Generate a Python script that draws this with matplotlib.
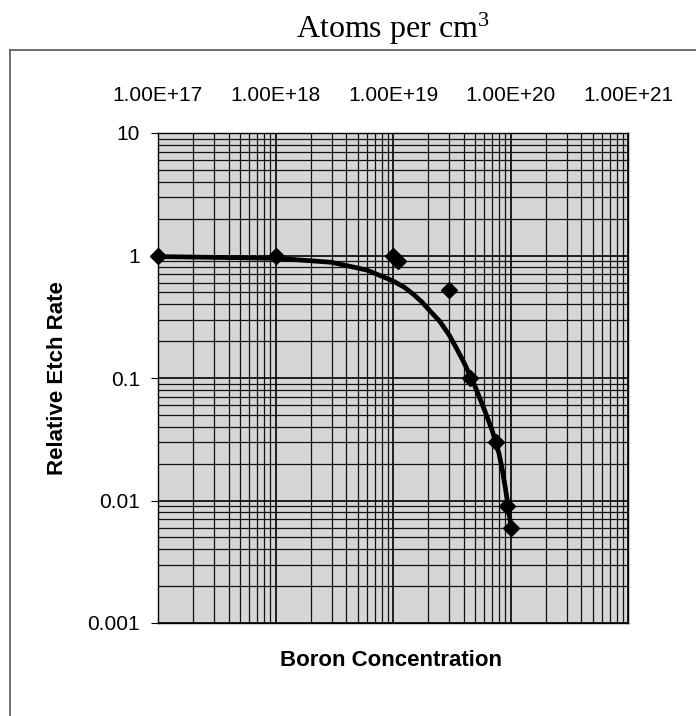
import numpy as np
import matplotlib
matplotlib.use('Agg')
import matplotlib.pyplot as plt
from matplotlib.lines import Line2D

# measured points (boron concentration in atoms/cm3, relative etch rate)
boron_conc = [1e17, 1e18, 1e19, 1.1e19, 3e19, 4.5e19, 7.5e19, 9.3e19, 1e20]
etch_rate = [1.0, 1.0, 1.0, 0.9, 0.52, 0.1, 0.03, 0.009, 0.006]

# fitted curve
fit_conc = [1e17, 1e18, 3e18, 6e18, 1e19, 1.25e19, 1.5e19, 1.75e19, 2e19,
            2.5e19, 3e19, 3.5e19, 4e19, 5e19, 6e19, 7e19, 8e19, 8.5e19,
            9e19, 9.5e19, 1e20]
fit_rate = [0.98, 0.95, 0.88, 0.76, 0.62, 0.55, 0.48, 0.42, 0.365,
            0.29, 0.225, 0.172, 0.135, 0.085, 0.055, 0.037, 0.024, 0.018,
            0.013, 0.0093, 0.0065]

x_ticks = [1e17, 1e18, 1e19, 1e20, 1e21]
x_tick_labels = ['1.00E+17', '1.00E+18', '1.00E+19', '1.00E+20', '1.00E+21']
y_ticks = [0.001, 0.01, 0.1, 1, 10]
y_tick_labels = ['0.001', '0.01', '0.1', '1', '10']

plt.rcParams['font.family'] = ['Liberation Sans', 'DejaVu Sans']

fig = plt.figure(figsize=(6.96, 7.16), dpi=100)
W, H = 696.0, 716.0
ax = fig.add_axes([158 / W, 1 - 623 / H, (628 - 158) / W, (623 - 133) / H])

ax.set_xscale('log')
ax.set_yscale('log')
ax.set_xlim(1e17, 1e21)
ax.set_ylim(1e-3, 10)
ax.set_facecolor('#d6d6d6')

# grid, major and minor
ax.grid(True, which='major', color='black', linewidth=1.2)
ax.grid(True, which='minor', color='#111111', linewidth=0.9)
ax.set_axisbelow(True)

ax.plot(fit_conc, fit_rate, color='black', linewidth=3.4, zorder=3,
        solid_joinstyle='round', solid_capstyle='round')
ax.plot(boron_conc, etch_rate, linestyle='none', marker='D', markersize=8,
        color='black', zorder=4, clip_on=False)

ax.xaxis.tick_top()
ax.set_xticks(x_ticks)
ax.set_xticklabels(x_tick_labels, fontsize=15)
ax.set_yticks(y_ticks)
ax.set_yticklabels(y_tick_labels, fontsize=15)
ax.minorticks_on()
ax.tick_params(axis='x', which='major', length=0, pad=20)
ax.tick_params(axis='y', which='major', length=5, width=0.8, pad=8)
ax.tick_params(which='minor', length=0, labelleft=False, labeltop=False)
for s in ax.spines.values():
    s.set_linewidth(1.0)

ax.set_ylabel('Relative Etch Rate', fontsize=16, fontweight='bold', labelpad=14)
fig.text(391 / W, 1 - 661 / H, 'Boron Concentration', fontsize=16,
         fontweight='bold', ha='center', va='center')

# outer frame and title
fig.add_artist(Line2D([10 / W, 1.0], [1 - 50 / H, 1 - 50 / H], color='#555555', linewidth=1.2))
fig.add_artist(Line2D([10 / W, 10 / W], [0.0, 1 - 50 / H], color='#555555', linewidth=1.2))
fig.text(393 / W, 1 - 29 / H, 'Atoms per cm$\\mathregular{^3}$', fontsize=23,
         family=['Liberation Serif', 'DejaVu Serif'], ha='center', va='center')

fig.savefig('out.png', dpi=100)
